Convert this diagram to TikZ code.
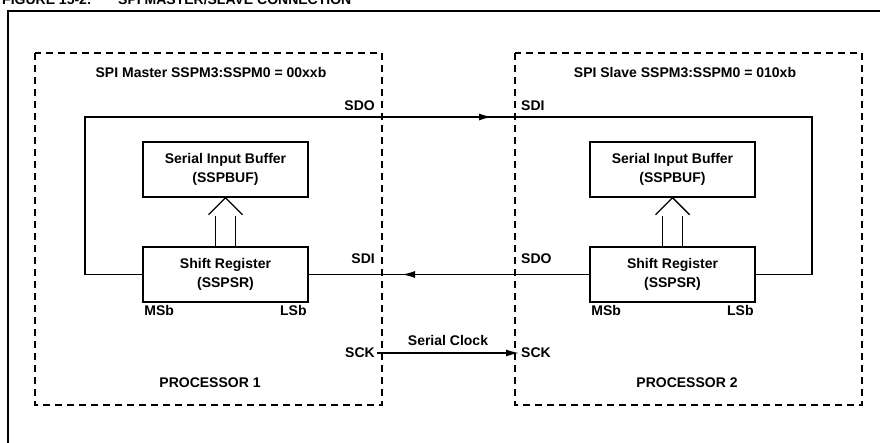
\documentclass[tikz,border=0pt]{standalone}
\usepackage{fontspec}
\setmainfont{Liberation Sans}
\usetikzlibrary{arrows.meta, calc}
\tikzset{
  blk/.style={draw, line width=1.5pt, minimum width=165pt, minimum height=55pt, align=center, inner sep=2pt},
  proc/.style={draw, line width=1.4pt, dash pattern=on 7pt off 5pt},
  sig/.style={line width=1.4pt},
  tip/.style={-{Latex[length=13pt,width=7pt]}},
  lbl/.style={inner sep=2pt}
}
\newcommand\busarrow[2]{%
  \draw[line width=1.4pt] ($(#1.north)+(-10,0)$) -- ($(#2.south)+(-10,18)$);
  \draw[line width=1.4pt] ($(#1.north)+(10,0)$) -- ($(#2.south)+(10,18)$);
  \draw[line width=1.4pt] ($(#2.south)+(-17,17)$) -- (#2.south) -- ($(#2.south)+(17,17)$);
}

\begin{document}
\begin{tikzpicture}[x=1pt, y=-1pt, font=\fontsize{14}{19}\selectfont\bfseries]
    \useasboundingbox (0,0) rectangle (880,443);
    % frame and caption
    \draw[line width=1.8pt] (8,443) -- (8,11) -- (880,11);
    \node[anchor=base west, inner sep=0pt] (fig) at (2,5) {FIGURE 15-2:};
    \node[anchor=base west, inner sep=0pt] (cap) at (118,5) {SPI MASTER/SLAVE CONNECTION};
    % processor 1
    \draw[proc] (35,53) rectangle (382,405);
    \node (mtitle) at (211,73) {SPI Master SSPM3:SSPM0 = 00xxb};
    \node[blk] (buf1) at (225.5,169.5) {Serial Input Buffer\\(SSPBUF)};
    \node[blk] (sr1) at (225.5,274.5) {Shift Register\\(SSPSR)};
    \node[lbl, anchor=north west] (msb1) at (sr1.south west) {MSb};
    \node[lbl, anchor=north east] (lsb1) at (sr1.south east) {LSb};
    \node[lbl, anchor=east] (sdo1) at (377,106) {SDO};
    \node[lbl, anchor=east] (sdi1) at (377,259) {SDI};
    \node[lbl, anchor=east] (sck1) at (377,353) {SCK};
    \node (p1) at (210,383) {PROCESSOR 1};
    \busarrow{sr1}{buf1}
    % processor 2
    \draw[proc] (515,53) rectangle (862,405);
    \node (stitle) at (685,73) {SPI Slave SSPM3:SSPM0 = 010xb};
    \node[blk] (buf2) at (672.5,169.5) {Serial Input Buffer\\(SSPBUF)};
    \node[blk] (sr2) at (672.5,274.5) {Shift Register\\(SSPSR)};
    \node[lbl, anchor=north west] (msb2) at (sr2.south west) {MSb};
    \node[lbl, anchor=north east] (lsb2) at (sr2.south east) {LSb};
    \node[lbl, anchor=west] (sdi2) at (519,106) {SDI};
    \node[lbl, anchor=west] (sdo2) at (519,259) {SDO};
    \node[lbl, anchor=west] (sck2) at (519,353) {SCK};
    \node (p2) at (687,383) {PROCESSOR 2};
    \busarrow{sr2}{buf2}
    % links
    \coordinate (lt) at (85,117);
    \coordinate (rt) at (812,117);
    \coordinate (toptip) at (492,117);
    \coordinate (midtip) at (402,274.5);
    \draw[sig] (sr1.west) -| (lt) -- (rt) |- (sr2.east);
    \draw[sig, tip] (lt) -- (toptip);
    \draw[sig] (sr1.east) -- (sr2.west);
    \draw[sig, tip] (sr2.west) -- (midtip);
    \draw[sig, tip] (sck1.east) -- (sck2.west) node[midway, above=3pt] (clk) {Serial Clock};
\end{tikzpicture}
\end{document}
